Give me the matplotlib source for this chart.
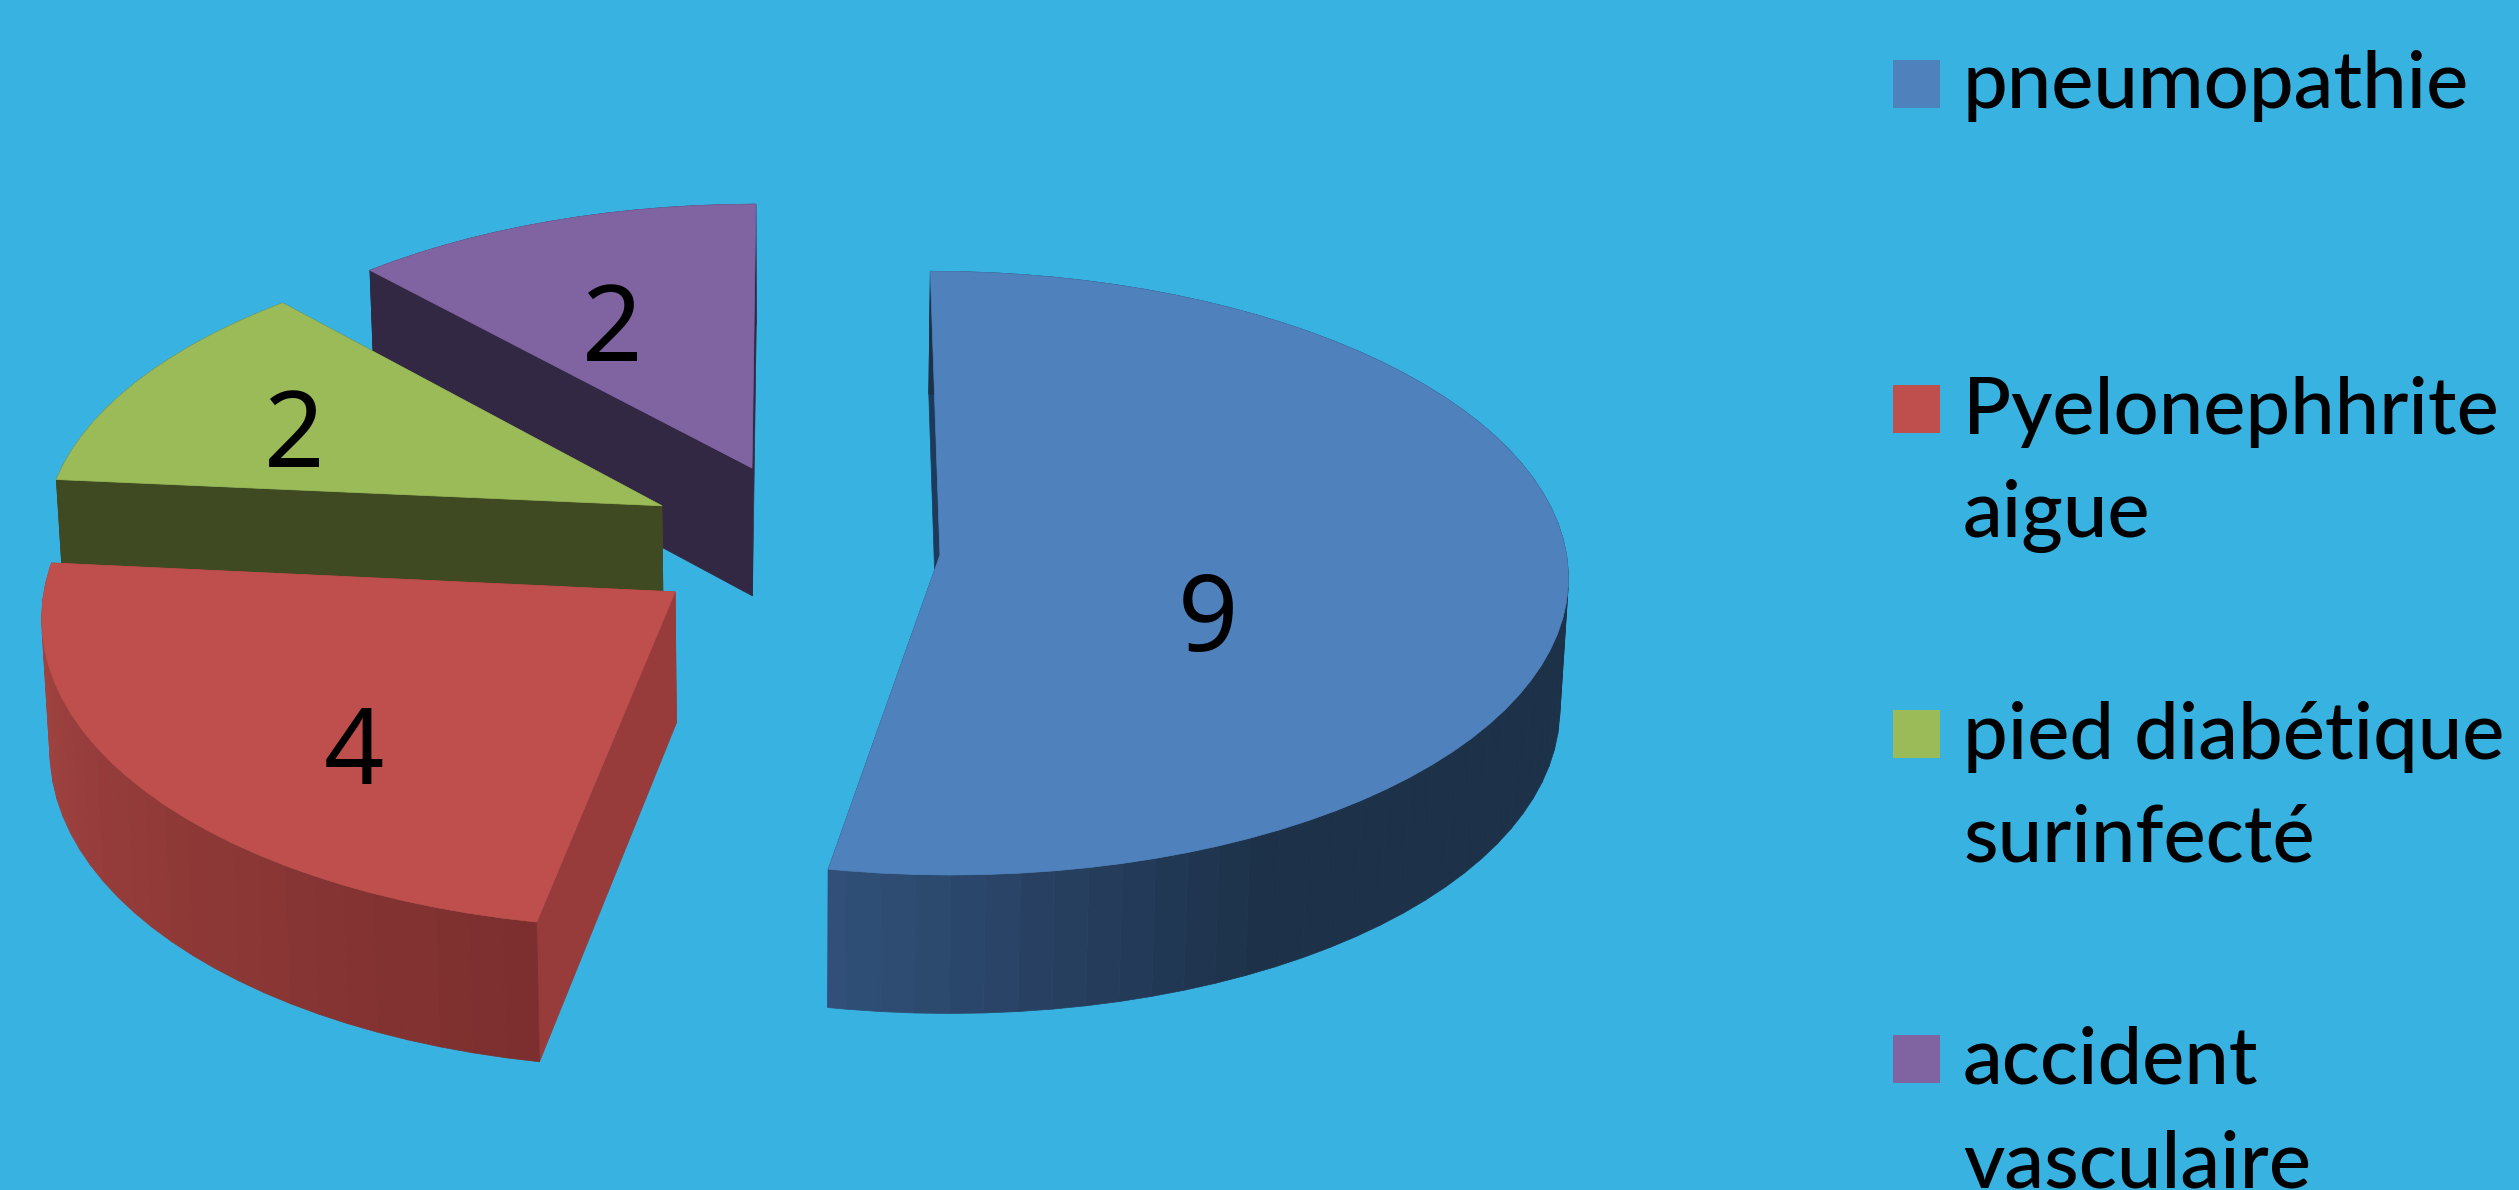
import numpy as np
import matplotlib
matplotlib.use("Agg")
import matplotlib.pyplot as plt
from matplotlib.colors import to_rgb

plt.rcParams['font.family'] = ['Lato', 'DejaVu Sans']

# chart data
categories = ["pneumopathie", "Pyelonephhrite\naigue", "pied diabétique\nsurinfecté", "accident\nvasculaire"]
values = [9, 4, 2, 2]

BG = '#38B2E1'
top_colors = ['#4F81BD', '#BE4F4C', '#9BBB59', '#8064A2']
side_colors = ['#1E3A5A', '#973C3A', '#3F4A22', '#322843']
# shading of the rim, angle (deg clockwise from 12 o'clock) -> colour
rim_shades = [
    ([90, 152, 190.6], ['#1D3149', '#1D3149', '#31507A']),
    ([190.6, 275.3], ['#7B2F2E', '#A84643']),
    ([275.3, 317.7], ['#3F4A22', '#3F4A22']),
    ([317.7, 360], ['#322843', '#322843']),
]

# exploded slices: offset x, offset y, scale x, scale y, skew
slice_geom = [
    (0.2365, -0.0213, 0.995, 1.000, -0.002),
    (-0.1826, -0.143, 0.995, 1.033, 0.011),
    (-0.207, 0.144, 0.984, 0.970, 0.027),
    (-0.063, 0.273, 0.962, 0.960, 0.003),
]
label_pos = [(1208, 651), (354, 784), (294, 467), (612, 361)]

# perspective camera
CX, CY = 791, 548.6
RX, RY = 629, 300
PERSP = 0.06
DEPTH = 130
SHRINK = 0.989


def project(theta, geom):
    ox, oy, sx, sy, skew = geom
    t = np.radians(theta)
    wx = ox + sx * np.sin(t) + skew * np.cos(t)
    wy = oy + sy * np.cos(t)
    w = 1 + PERSP * wy
    x = CX + RX * wx / w
    y = CY - RY * wy / w
    return x, y, w


def apex(geom):
    ox, oy = geom[0], geom[1]
    w = 1 + PERSP * oy
    return CX + RX * ox / w, CY - RY * oy / w, w


def lower(x, y, w):
    return CX + (x - CX) * SHRINK, y + DEPTH / w


def rim_colour(theta, shade):
    angles, colours = shade
    rgb = np.array([to_rgb(c) for c in colours])
    return [np.interp(theta, angles, rgb[:, i]) for i in range(3)]


def draw_slice(ax, start, end, geom, top, side, shade):
    ax0, ay0, aw = apex(geom)
    bx0, by0 = lower(ax0, ay0, aw)

    # radial walls, the one further back first
    ends = sorted([start, end], key=lambda a: -np.cos(np.radians(a)))
    for a in ends:
        x, y, w = project(a, geom)
        bx, by = lower(x, y, w)
        ax.fill([ax0, x, bx, bx0], [ay0, y, by, by0], color=side, lw=0.5)

    # outer rim as small facets
    thetas = np.arange(start, end, 3.0)
    thetas = np.append(thetas, end)
    order = np.argsort(-np.cos(np.radians(thetas[:-1])))
    for i in order:
        a, b = thetas[i], thetas[i + 1]
        x1, y1, w1 = project(a, geom)
        x2, y2, w2 = project(b, geom)
        bx1, by1 = lower(x1, y1, w1)
        bx2, by2 = lower(x2, y2, w2)
        ax.fill([x1, x2, bx2, bx1], [y1, y2, by2, by1],
                color=rim_colour((a + b) / 2, shade), lw=0.5)

    # top face
    xs, ys, _ = project(thetas, geom)
    ax.fill(np.r_[ax0, xs], np.r_[ay0, ys], color=top, lw=0.5)


fig = plt.figure(figsize=(25.19, 11.90), dpi=100, facecolor=BG)
ax = fig.add_axes([0, 0, 1, 1])
ax.set_xlim(0, 2519)
ax.set_ylim(1190, 0)
ax.axis('off')

angles = np.cumsum([0] + values) / sum(values) * 360

# paint from the back of the pie to the front
for i in [3, 2, 1, 0]:
    draw_slice(ax, angles[i], angles[i + 1], slice_geom[i], top_colors[i], side_colors[i], rim_shades[i])

for v, (lx, ly) in zip(values, label_pos):
    ax.text(lx, ly, str(v), fontsize=76, color='black', ha='center', va='baseline', family='Noto Sans')

# legend
legend_y = [60, 385, 710, 1035]
legend_baseline = [108, 434, 759, 1084]
LINE_STEP = 103
for name, col, ys, base in zip(categories, top_colors, legend_y, legend_baseline):
    ax.fill([1893, 1940, 1940, 1893], [ys, ys, ys + 48, ys + 48], color=col, lw=0)
    for j, line in enumerate(name.split("\n")):
        ax.text(1963, base + j * LINE_STEP, line, fontsize=57.3, color='black', ha='left', va='baseline', fontweight='medium')

fig.savefig("out.png", dpi=100, facecolor=BG)
